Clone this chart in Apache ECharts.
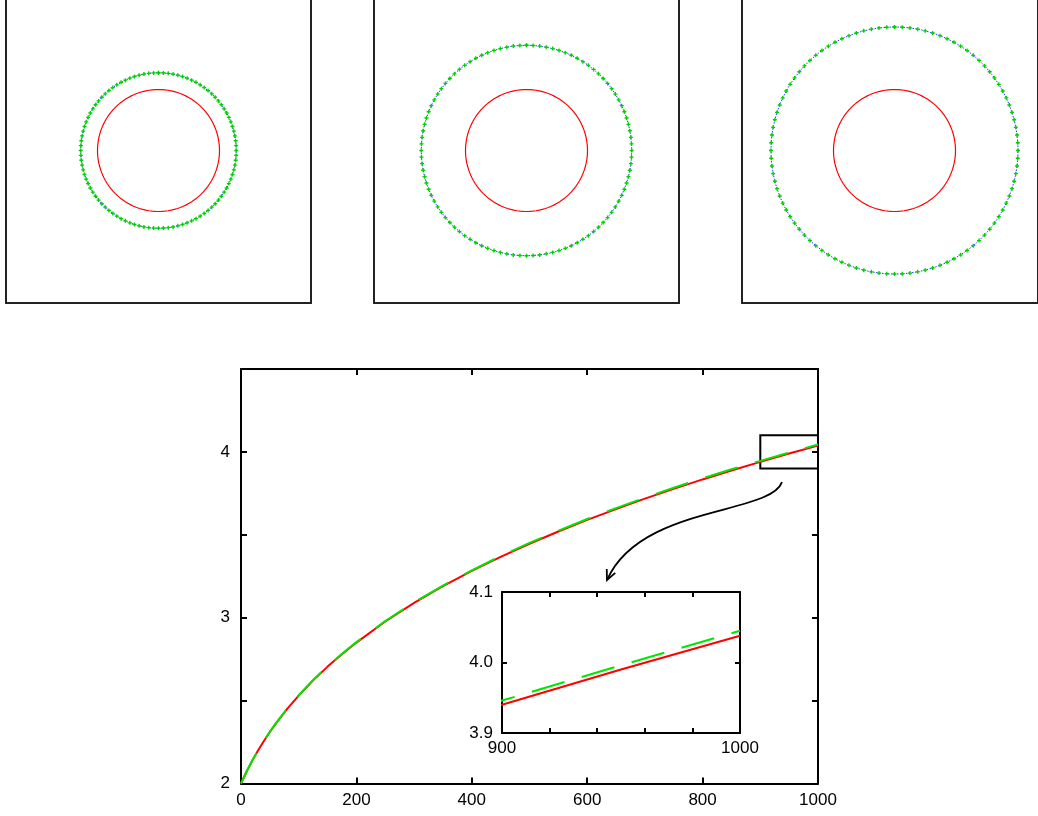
<!DOCTYPE html>
<html>
<head>
<meta charset="utf-8">
<script src="https://cdn.jsdelivr.net/npm/echarts@6/dist/echarts.min.js"></script>
<style>
html,body{margin:0;padding:0;background:#fff;}
#chart{width:1038px;height:816px;}
</style>
</head>
<body>
<div id="chart"></div>
<script>
// ---- data ----
const tValues     = [0, 10, 20, 30, 40, 50, 60, 80, 100, 125, 150, 175, 200, 250, 300, 350, 400, 450, 500, 550, 600, 650, 700, 750, 800, 850, 900, 950, 1000];
const redValues   = [2.000, 2.074, 2.141, 2.202, 2.258, 2.311, 2.360, 2.450, 2.530, 2.622, 2.705, 2.780, 2.850, 2.977, 3.089, 3.190, 3.282, 3.367, 3.446, 3.520, 3.590, 3.655, 3.718, 3.777, 3.834, 3.888, 3.940, 3.990, 4.038];
const greenValues = [2.000, 2.074, 2.142, 2.203, 2.259, 2.312, 2.361, 2.451, 2.532, 2.624, 2.707, 2.783, 2.853, 2.980, 3.093, 3.194, 3.286, 3.372, 3.451, 3.525, 3.595, 3.661, 3.724, 3.784, 3.841, 3.895, 3.946, 3.996, 4.045];

// top panels: inner (red) circle radius and outer (marker) circle radius
const panelInnerRadius = [2.0, 2.0, 2.0];
const panelOuterRadius = [2.55, 3.45, 4.05];
const panelMarkerCount = 100;

// main chart ticks
const mainXTicks = [0, 200, 400, 600, 800, 1000];
const mainYTicks = [2, 3, 4];
const insetXTicks = [900, 1000];
const insetYTicks = ['3.9', '4.0', '4.1'];

// zoom box [xmin, xmax, ymin, ymax] and the arrow path (data coords of main chart)
const zoomBox = [900, 1000, 3.9, 4.1];
const arrowPath = [[937.6, 3.818], [916.8, 3.619], [691.5, 3.680], [634.3, 3.227]];

// ---- build ----
const redPts = tValues.map((t, i) => [t, redValues[i]]);
const greenPts = tValues.map((t, i) => [t, greenValues[i]]);

function anglesOf(n) { const a = []; for (let i = 0; i <= n; i++) a.push(360 * i / n); return a; }
const markerAngles = anglesOf(panelMarkerCount);
const redAngles = anglesOf(240);

const FONT = 'Liberation Sans';
const lblStyle = {color: '#000', fontSize: 17, fontFamily: FONT};

const panelLefts = [6, 374, 742];
const PANEL = 305;

const grids = [
  {left: 241, top: 369, width: 577, height: 414.5},
  {left: 502, top: 592, width: 238, height: 141, backgroundColor: '#fff', show: true, borderWidth: 0}
];
panelLefts.forEach(l => grids.push({left: l, top: -2, width: PANEL, height: PANEL}));

const axisLineMain = {show: true, onZero: false, lineStyle: {color: '#000', width: 2}};
const tickMain = {show: true, inside: true, length: 6, lineStyle: {color: '#000', width: 2}};
const panelLine = {show: true, onZero: false, lineStyle: {color: '#222', width: 2}};

const xAxes = [
  {gridIndex: 0, type: 'value', min: 0, max: 1000, interval: 200, position: 'bottom',
   axisLine: axisLineMain, axisTick: tickMain, splitLine: {show: false},
   axisLabel: Object.assign({margin: 8, formatter: v => mainXTicks.includes(v) ? String(v) : ''}, lblStyle)},
  {gridIndex: 0, type: 'value', min: 0, max: 1000, interval: 200, position: 'top',
   axisLine: axisLineMain, axisTick: tickMain, splitLine: {show: false}, axisLabel: {show: false}},
  {gridIndex: 1, type: 'value', min: 900, max: 1000, interval: 20, position: 'bottom',
   axisLine: axisLineMain, axisTick: Object.assign({}, tickMain, {length: 5}), splitLine: {show: false},
   axisLabel: Object.assign({margin: 7, formatter: v => insetXTicks.includes(v) ? String(v) : ''}, lblStyle)},
  {gridIndex: 1, type: 'value', min: 900, max: 1000, interval: 20, position: 'top',
   axisLine: axisLineMain, axisTick: Object.assign({}, tickMain, {length: 5}), splitLine: {show: false}, axisLabel: {show: false}}
];
const yAxes = [
  {gridIndex: 0, type: 'value', min: 2, max: 4.5, interval: 0.5, position: 'left',
   axisLine: axisLineMain, axisTick: tickMain, splitLine: {show: false},
   axisLabel: Object.assign({margin: 11, formatter: v => mainYTicks.includes(v) ? String(v) : ''}, lblStyle)},
  {gridIndex: 0, type: 'value', min: 2, max: 4.5, interval: 0.5, position: 'right',
   axisLine: axisLineMain, axisTick: tickMain, splitLine: {show: false}, axisLabel: {show: false}},
  {gridIndex: 1, type: 'value', min: 3.9, max: 4.1, interval: 0.1, position: 'left',
   axisLine: axisLineMain, axisTick: Object.assign({}, tickMain, {length: 5}), splitLine: {show: false},
   axisLabel: Object.assign({margin: 9, formatter: v => { const s = v.toFixed(1); return insetYTicks.includes(s) ? s : ''; }}, lblStyle)},
  {gridIndex: 1, type: 'value', min: 3.9, max: 4.1, interval: 0.1, position: 'right',
   axisLine: axisLineMain, axisTick: Object.assign({}, tickMain, {length: 5}), splitLine: {show: false}, axisLabel: {show: false}}
];
const bare = {axisTick: {show: false}, axisLabel: {show: false}, splitLine: {show: false}};
panelLefts.forEach((l, i) => {
  xAxes.push(Object.assign({gridIndex: 2 + i, type: 'value', min: -5, max: 5, position: 'bottom', axisLine: panelLine}, bare));
  yAxes.push(Object.assign({gridIndex: 2 + i, type: 'value', min: -5, max: 5, position: 'left', axisLine: panelLine}, bare));
  yAxes.push(Object.assign({gridIndex: 2 + i, type: 'value', min: -5, max: 5, position: 'right', axisLine: panelLine}, bare));
});

const polars = [], radiusAxes = [], angleAxes = [];
panelLefts.forEach((l, i) => {
  polars.push({center: [l + PANEL / 2, -2 + PANEL / 2], radius: PANEL / 2});
  radiusAxes.push({polarIndex: i, type: 'value', min: 0, max: 5, show: false});
  angleAxes.push({polarIndex: i, type: 'value', min: 0, max: 360, startAngle: 90, show: false});
});

const RED = '#ff0000', GREEN = '#00e600';
const series = [
  {type: 'line', xAxisIndex: 0, yAxisIndex: 0, data: redPts, smooth: false,
   showSymbol: false, lineStyle: {color: RED, width: 2}, z: 3,
   markArea: {silent: true, itemStyle: {color: 'rgba(0,0,0,0)', borderColor: '#000', borderWidth: 2},
     data: [[{coord: [zoomBox[0], zoomBox[2]]}, {coord: [zoomBox[1], zoomBox[3]]}]]}},
  {type: 'line', xAxisIndex: 0, yAxisIndex: 0, data: greenPts, smooth: false,
   showSymbol: false, lineStyle: {color: GREEN, width: 2, type: [34, 18]}, z: 4},
  {type: 'line', xAxisIndex: 2, yAxisIndex: 2, data: redPts, clip: true,
   showSymbol: false, lineStyle: {color: RED, width: 2}, z: 5},
  {type: 'line', xAxisIndex: 2, yAxisIndex: 2, data: greenPts, clip: true,
   showSymbol: false, lineStyle: {color: GREEN, width: 2, type: [34, 18]}, z: 6}
];
const plusPath = 'path://M1,0 L2,0 L2,1 L3,1 L3,2 L2,2 L2,3 L1,3 L1,2 L0,2 L0,1 L1,1 Z';
panelLefts.forEach((l, i) => {
  series.push({type: 'line', coordinateSystem: 'polar', polarIndex: i,
    data: redAngles.map(a => [panelInnerRadius[i], a]), showSymbol: false,
    lineStyle: {color: RED, width: 1.2}});
  series.push({type: 'line', coordinateSystem: 'polar', polarIndex: i,
    data: markerAngles.map(a => [panelOuterRadius[i], a]),
    showSymbol: true, showAllSymbol: true, symbol: plusPath, symbolSize: 4,
    itemStyle: {color: '#00d000', borderWidth: 0},
    lineStyle: {color: '#1a3cff', width: 1, type: [1.5, 1.5], opacity: 1}});
});

const chart = echarts.init(document.getElementById('chart'), null, {renderer: 'canvas'});
chart.setOption({
  backgroundColor: '#fff',
  animation: false,
  grid: grids, xAxis: xAxes, yAxis: yAxes,
  polar: polars, radiusAxis: radiusAxes, angleAxis: angleAxes,
  series: series
});

// curved annotation arrow, placed from data coordinates of the main chart
const P = arrowPath.map(p => chart.convertToPixel({gridIndex: 0}, p));
const tip = P[3], prev = P[2];
let dx = prev[0] - tip[0], dy = prev[1] - tip[1];
const len = Math.hypot(dx, dy); dx /= len; dy /= len;
const ang = 25 * Math.PI / 180, armLen = 11;
function rot(x, y, a) { return [x * Math.cos(a) - y * Math.sin(a), x * Math.sin(a) + y * Math.cos(a)]; }
const a1 = rot(dx, dy, ang), a2 = rot(dx, dy, -ang);
chart.setOption({
  graphic: [
    {type: 'bezierCurve', silent: true, z: 10,
     shape: {x1: P[0][0], y1: P[0][1], cpx1: P[1][0], cpy1: P[1][1], cpx2: P[2][0], cpy2: P[2][1], x2: P[3][0], y2: P[3][1]},
     style: {stroke: '#000', lineWidth: 1.8, fill: null}},
    {type: 'polyline', silent: true, z: 10,
     shape: {points: [[tip[0] + a1[0] * armLen, tip[1] + a1[1] * armLen], tip, [tip[0] + a2[0] * armLen, tip[1] + a2[1] * armLen]]},
     style: {stroke: '#000', lineWidth: 1.8, fill: null}}
  ]
});
</script>
</body>
</html>
